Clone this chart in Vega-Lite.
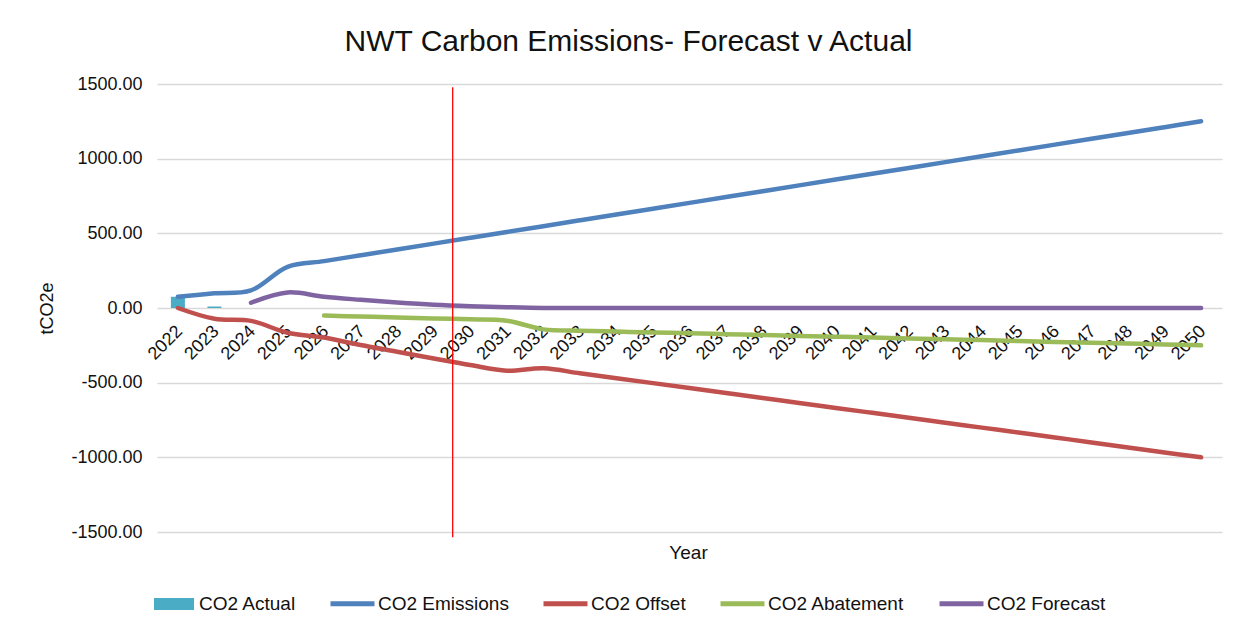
{
  "$schema": "https://vega.github.io/schema/vega-lite/v6.json",
  "width": 1065,
  "height": 448,
  "autosize": {"type": "none"},
  "padding": {"left": 157, "top": 84, "right": 21, "bottom": 98},
  "background": "white",
  "config": {
    "font": "Liberation Sans",
    "view": {"stroke": null}
  },
  "title": {
    "text": "NWT Carbon Emissions- Forecast v Actual",
    "fontSize": 30,
    "fontWeight": "normal",
    "color": "#111111",
    "anchor": "middle",
    "frame": "group",
    "baseline": "alphabetic",
    "offset": -6,
    "dx": -61
  },
  "data": {
    "values": [
      {"year": 2022, "series": "CO2 Actual", "value": 75},
      {"year": 2023, "series": "CO2 Actual", "value": 10},
      {"year": 2022, "series": "CO2 Emissions", "value": 75},
      {"year": 2023, "series": "CO2 Emissions", "value": 98},
      {"year": 2024, "series": "CO2 Emissions", "value": 118},
      {"year": 2025, "series": "CO2 Emissions", "value": 276},
      {"year": 2026, "series": "CO2 Emissions", "value": 314},
      {"year": 2027, "series": "CO2 Emissions", "value": 353},
      {"year": 2028, "series": "CO2 Emissions", "value": 392},
      {"year": 2029, "series": "CO2 Emissions", "value": 431},
      {"year": 2030, "series": "CO2 Emissions", "value": 470},
      {"year": 2031, "series": "CO2 Emissions", "value": 509},
      {"year": 2032, "series": "CO2 Emissions", "value": 548},
      {"year": 2033, "series": "CO2 Emissions", "value": 587},
      {"year": 2034, "series": "CO2 Emissions", "value": 626},
      {"year": 2035, "series": "CO2 Emissions", "value": 665},
      {"year": 2036, "series": "CO2 Emissions", "value": 704},
      {"year": 2037, "series": "CO2 Emissions", "value": 743},
      {"year": 2038, "series": "CO2 Emissions", "value": 782},
      {"year": 2039, "series": "CO2 Emissions", "value": 821},
      {"year": 2040, "series": "CO2 Emissions", "value": 860},
      {"year": 2041, "series": "CO2 Emissions", "value": 899},
      {"year": 2042, "series": "CO2 Emissions", "value": 938},
      {"year": 2043, "series": "CO2 Emissions", "value": 977},
      {"year": 2044, "series": "CO2 Emissions", "value": 1016},
      {"year": 2045, "series": "CO2 Emissions", "value": 1055},
      {"year": 2046, "series": "CO2 Emissions", "value": 1094},
      {"year": 2047, "series": "CO2 Emissions", "value": 1133},
      {"year": 2048, "series": "CO2 Emissions", "value": 1172},
      {"year": 2049, "series": "CO2 Emissions", "value": 1211},
      {"year": 2050, "series": "CO2 Emissions", "value": 1250},
      {"year": 2022, "series": "CO2 Offset", "value": 0},
      {"year": 2023, "series": "CO2 Offset", "value": -72},
      {"year": 2024, "series": "CO2 Offset", "value": -86},
      {"year": 2025, "series": "CO2 Offset", "value": -166},
      {"year": 2026, "series": "CO2 Offset", "value": -198},
      {"year": 2027, "series": "CO2 Offset", "value": -248},
      {"year": 2028, "series": "CO2 Offset", "value": -293},
      {"year": 2029, "series": "CO2 Offset", "value": -338},
      {"year": 2030, "series": "CO2 Offset", "value": -382},
      {"year": 2031, "series": "CO2 Offset", "value": -420},
      {"year": 2032, "series": "CO2 Offset", "value": -404},
      {"year": 2033, "series": "CO2 Offset", "value": -437},
      {"year": 2034, "series": "CO2 Offset", "value": -470},
      {"year": 2035, "series": "CO2 Offset", "value": -503},
      {"year": 2036, "series": "CO2 Offset", "value": -536},
      {"year": 2037, "series": "CO2 Offset", "value": -569},
      {"year": 2038, "series": "CO2 Offset", "value": -602},
      {"year": 2039, "series": "CO2 Offset", "value": -636},
      {"year": 2040, "series": "CO2 Offset", "value": -669},
      {"year": 2041, "series": "CO2 Offset", "value": -702},
      {"year": 2042, "series": "CO2 Offset", "value": -735},
      {"year": 2043, "series": "CO2 Offset", "value": -768},
      {"year": 2044, "series": "CO2 Offset", "value": -801},
      {"year": 2045, "series": "CO2 Offset", "value": -834},
      {"year": 2046, "series": "CO2 Offset", "value": -867},
      {"year": 2047, "series": "CO2 Offset", "value": -900},
      {"year": 2048, "series": "CO2 Offset", "value": -934},
      {"year": 2049, "series": "CO2 Offset", "value": -967},
      {"year": 2050, "series": "CO2 Offset", "value": -1000},
      {"year": 2026, "series": "CO2 Abatement", "value": -51},
      {"year": 2027, "series": "CO2 Abatement", "value": -57},
      {"year": 2028, "series": "CO2 Abatement", "value": -63},
      {"year": 2029, "series": "CO2 Abatement", "value": -70},
      {"year": 2030, "series": "CO2 Abatement", "value": -76},
      {"year": 2031, "series": "CO2 Abatement", "value": -85},
      {"year": 2032, "series": "CO2 Abatement", "value": -143},
      {"year": 2033, "series": "CO2 Abatement", "value": -152},
      {"year": 2034, "series": "CO2 Abatement", "value": -158},
      {"year": 2035, "series": "CO2 Abatement", "value": -164},
      {"year": 2036, "series": "CO2 Abatement", "value": -169},
      {"year": 2037, "series": "CO2 Abatement", "value": -175},
      {"year": 2038, "series": "CO2 Abatement", "value": -181},
      {"year": 2039, "series": "CO2 Abatement", "value": -187},
      {"year": 2040, "series": "CO2 Abatement", "value": -192},
      {"year": 2041, "series": "CO2 Abatement", "value": -198},
      {"year": 2042, "series": "CO2 Abatement", "value": -204},
      {"year": 2043, "series": "CO2 Abatement", "value": -210},
      {"year": 2044, "series": "CO2 Abatement", "value": -215},
      {"year": 2045, "series": "CO2 Abatement", "value": -221},
      {"year": 2046, "series": "CO2 Abatement", "value": -227},
      {"year": 2047, "series": "CO2 Abatement", "value": -233},
      {"year": 2048, "series": "CO2 Abatement", "value": -238},
      {"year": 2049, "series": "CO2 Abatement", "value": -244},
      {"year": 2050, "series": "CO2 Abatement", "value": -250},
      {"year": 2024, "series": "CO2 Forecast", "value": 35},
      {"year": 2025, "series": "CO2 Forecast", "value": 104},
      {"year": 2026, "series": "CO2 Forecast", "value": 75},
      {"year": 2027, "series": "CO2 Forecast", "value": 55},
      {"year": 2028, "series": "CO2 Forecast", "value": 37},
      {"year": 2029, "series": "CO2 Forecast", "value": 22},
      {"year": 2030, "series": "CO2 Forecast", "value": 12},
      {"year": 2031, "series": "CO2 Forecast", "value": 5},
      {"year": 2032, "series": "CO2 Forecast", "value": 0},
      {"year": 2033, "series": "CO2 Forecast", "value": 0},
      {"year": 2034, "series": "CO2 Forecast", "value": 0},
      {"year": 2035, "series": "CO2 Forecast", "value": 0},
      {"year": 2036, "series": "CO2 Forecast", "value": 0},
      {"year": 2037, "series": "CO2 Forecast", "value": 0},
      {"year": 2038, "series": "CO2 Forecast", "value": 0},
      {"year": 2039, "series": "CO2 Forecast", "value": 0},
      {"year": 2040, "series": "CO2 Forecast", "value": 0},
      {"year": 2041, "series": "CO2 Forecast", "value": 0},
      {"year": 2042, "series": "CO2 Forecast", "value": 0},
      {"year": 2043, "series": "CO2 Forecast", "value": 0},
      {"year": 2044, "series": "CO2 Forecast", "value": 0},
      {"year": 2045, "series": "CO2 Forecast", "value": 0},
      {"year": 2046, "series": "CO2 Forecast", "value": 0},
      {"year": 2047, "series": "CO2 Forecast", "value": 0},
      {"year": 2048, "series": "CO2 Forecast", "value": 0},
      {"year": 2049, "series": "CO2 Forecast", "value": 0},
      {"year": 2050, "series": "CO2 Forecast", "value": 0}
    ]
  },
  "encoding": {
    "x": {
      "field": "year",
      "type": "quantitative",
      "scale": {"domain": [2021.565, 2050.435], "nice": false, "zero": false},
      "axis": {
        "title": "Year",
        "titleFontSize": 19,
        "titleFontWeight": "normal",
        "titleColor": "#111111",
        "titleX": 531,
        "titleY": 244,
        "titleBaseline": "middle",
        "titleAlign": "center",
        "offset": -224,
        "values": [2022, 2023, 2024, 2025, 2026, 2027, 2028, 2029, 2030, 2031, 2032, 2033, 2034, 2035, 2036, 2037, 2038, 2039, 2040, 2041, 2042, 2043, 2044, 2045, 2046, 2047, 2048, 2049, 2050],
        "format": "d",
        "labelAngle": -45,
        "labelAlign": "right",
        "labelBaseline": "top",
        "labelFontSize": 18,
        "labelColor": "#111111",
        "labelPadding": 14,
        "labelOffset": -5,
        "labelOverlap": false,
        "labelBound": false,
        "labelFlush": false,
        "domain": false,
        "ticks": false,
        "tickSize": 0,
        "grid": false
      }
    },
    "y": {
      "field": "value",
      "type": "quantitative",
      "scale": {"domain": [-1500, 1500], "nice": false},
      "axis": {
        "title": "tCO2e",
        "titleFontSize": 18,
        "titleFontWeight": "normal",
        "titleColor": "#111111",
        "titleAngle": -90,
        "titleX": -110,
        "titleY": 224,
        "titleAlign": "center",
        "titleBaseline": "middle",
        "values": [-1500, -1000, -500, 0, 500, 1000, 1500],
        "labelExpr": "replace(format(datum.value, '.2f'), '\u2212', '-')",
        "labelFontSize": 18,
        "labelColor": "#111111",
        "labelPadding": 15,
        "domain": false,
        "ticks": false,
        "tickSize": 0,
        "grid": true,
        "gridColor": "#D9D9D9",
        "gridWidth": 1.3
      }
    }
  },
  "layer": [
    {
      "transform": [{"filter": "datum.series === 'CO2 Actual'"}],
      "mark": {"type": "bar", "size": 14},
      "encoding": {
        "fill": {
          "field": "series",
          "type": "nominal",
          "scale": {"domain": ["CO2 Actual"], "range": ["#4BACC6"]},
          "legend": {
            "title": null,
            "orient": "none",
            "direction": "horizontal",
            "legendX": -5,
            "legendY": 498,
            "padding": 0,
            "labelFontSize": 19,
            "labelColor": "#111111",
            "labelOffset": 3,
            "symbolType": "M-0.91,-0.27H0.91V0.27H-0.91Z",
            "symbolSize": 1936,
            "symbolStrokeWidth": 0,
            "symbolOpacity": 1
          }
        }
      }
    },
    {
      "transform": [{"filter": "datum.series !== 'CO2 Actual'"}],
      "mark": {"type": "line", "strokeWidth": 4.5, "interpolate": "catmull-rom", "strokeCap": "round", "strokeJoin": "round"},
      "encoding": {
        "color": {
          "field": "series",
          "type": "nominal",
          "scale": {
            "domain": ["CO2 Emissions", "CO2 Offset", "CO2 Abatement", "CO2 Forecast"],
            "range": ["#4F81BD", "#C0504D", "#9BBB59", "#8064A2"]
          },
          "legend": {
            "title": null,
            "orient": "none",
            "direction": "horizontal",
            "columns": 4,
            "legendX": 171,
            "legendY": 495,
            "padding": 0,
            "columnPadding": 24,
            "labelFontSize": 19,
            "labelColor": "#111111",
            "labelOffset": 1,
            "symbolType": "M-1,0H1",
            "symbolSize": 1936,
            "symbolStrokeWidth": 5,
            "symbolOpacity": 1
          }
        }
      }
    },
    {
      "data": {"values": [{"year": 2029.52, "top": 1478, "bottom": -1535}]},
      "mark": {"type": "rule", "color": "#FF0000", "strokeWidth": 1.3},
      "encoding": {
        "x": {"field": "year", "type": "quantitative"},
        "y": {"field": "top", "type": "quantitative"},
        "y2": {"field": "bottom"}
      }
    }
  ]
}
